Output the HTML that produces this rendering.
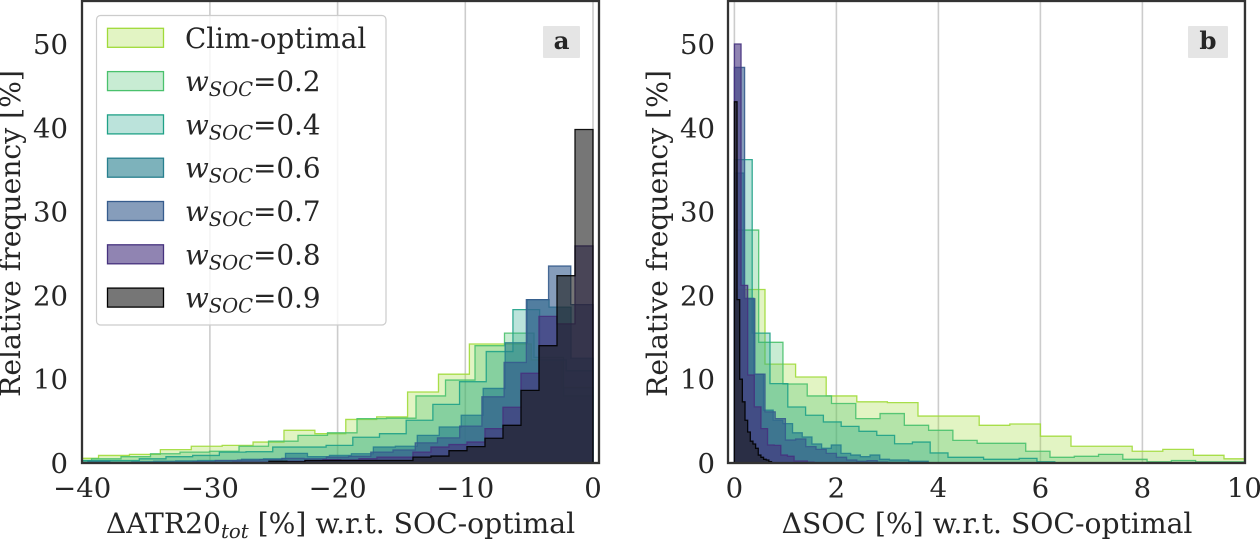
<!DOCTYPE html>
<html>
<head>
<meta charset="utf-8">
<title>Histograms of delta ATR20 and delta SOC</title>
<style>
html,body{margin:0;padding:0;background:#fff;width:1260px;height:539px;overflow:hidden}
svg{display:block}
text{font-family:"DejaVu Serif","Liberation Serif",serif;fill:#262626}
.tick{font-size:27.5px}
.axis{font-size:28.2px}
.leg{font-size:27.8px}
.it{font-style:italic}
.panel{font-size:24.5px;font-weight:bold;fill:#262626}
</style>
</head>
<body>
<svg id="chart" width="1260" height="539" viewBox="0 0 1260 539" xmlns="http://www.w3.org/2000/svg">
  <defs>
    <clipPath id="clipA"><rect x="82" y="1" width="517" height="462"/></clipPath>
    <clipPath id="clipB"><rect x="728" y="1" width="517" height="462"/></clipPath>
  </defs>
  <g id="gridA"></g>
  <g id="gridB"></g>
  <g id="marksA" clip-path="url(#clipA)"></g>
  <g id="marksB" clip-path="url(#clipB)"></g>
  <rect x="82" y="1" width="517" height="462" fill="none" stroke="#333" stroke-width="2.3"/>
  <rect x="728" y="1" width="517" height="462" fill="none" stroke="#333" stroke-width="2.3"/>
  <g id="ticksA"></g>
  <g id="ticksB"></g>

  <text class="axis" transform="translate(20,233.5) rotate(-90)" text-anchor="middle">Relative frequency [%]</text>
  <text class="axis" transform="translate(667,233.5) rotate(-90)" text-anchor="middle">Relative frequency [%]</text>
  <text class="axis" x="340.5" y="533" text-anchor="middle">ΔATR20<tspan class="it" font-size="19.7" dy="5">tot</tspan><tspan dy="-5"> [%] w.r.t. SOC-optimal</tspan></text>
  <text class="axis" x="987" y="533" text-anchor="middle">ΔSOC [%] w.r.t. SOC-optimal</text>

  <g>
    <rect x="543" y="26" width="37" height="32" rx="1" fill="#e5e5e5"/>
    <text class="panel" x="561.5" y="49" text-anchor="middle">a</text>
  </g>
  <g>
    <rect x="1188" y="26" width="40" height="32" rx="1" fill="#e5e5e5"/>
    <text class="panel" x="1208" y="49" text-anchor="middle">b</text>
  </g>

  <g id="legend">
    <rect x="96.5" y="15.5" width="289.5" height="309.5" rx="4" fill="#fff" fill-opacity="0.8" stroke="#ccc" stroke-width="1.2"/>
  </g>
</svg>
<script>
// Bin widths in axis units, and frequencies [%] listed from the zero end outward.
const seriesNames = ["Clim-optimal", "0.2", "0.4", "0.6", "0.7", "0.8", "0.9"];
const seriesColors = ["#a0da39", "#4ac16d", "#1fa187", "#277f8e", "#365c8d", "#46327e", "#000000"];
const seriesFills = ["#a0da39", "#4ac16d", "#1fa187", "#277f8e", "#365c8d", "#46327e", "#1a1a1a"];
const seriesAlpha = [0.3, 0.3, 0.3, 0.6, 0.6, 0.6, 0.6];

const atrBinWidths = [2.42, 2.31, 2.09, 1.72, 1.74, 1.41, 1.41];
const atrClim = [9, 12.3, 14.2, 14.2, 10.6, 8.47, 5.5, 5.2, 3.5, 3.9, 2.5, 2.1, 2.0, 1.6, 1.03, 0.9, 0.56];
const atrW02 = [8, 12.6, 15.5, 14, 9.9, 8, 5.35, 5.3, 3.6, 3.3, 2.6, 2, 1.4, 1.3, 1.1, 0.75, 0.5, 0.3];
const atrW04 = [11, 12.3, 18.3, 13.3, 9.7, 7, 5.1, 3.5, 3.07, 2.1, 1.9, 1.9, 1.35, 1.3, 0.9, 0.75, 0.5, 0.3, 0.3, 0.3];
const atrW06 = [12.5, 18.6, 19.5, 14.35, 8.9, 5.7, 4.3, 3.3, 2.0, 1.9, 1.1, 0.9, 0.75, 1.15, 0.5, 0.45, 0.3, 0.3, 0.25, 0.2, 0.15, 0.1, 0.2, 0.1];
const atrW07 = [18.9, 23.5, 19.5, 12, 7.9, 4.4, 3.0, 2.4, 1.55, 1.3, 0.8, 0.7, 0.5, 0.55, 0.4, 0.35, 0.3, 0.15, 0.1, 0.05];
const atrW08 = [25.9, 16.6, 17.5, 10.7, 6.65, 4.1, 2.5, 2.2, 1.9, 1.3, 0.7, 0.7, 0.5, 0.35, 0.4, 0.3, 0.2, 0.15, 0.1, 0.1, 0.05, 0.05];
const atrW09 = [39.8, 22.35, 14, 8.67, 4.5, 2.95, 1.95, 1.47, 0.83, 0.7, 0.3, 0.3, 0.3, 0.3, 0.3, 0.3, 0.15, 0.2];

const socBinWidths = [0.6, 0.476, 0.349, 0.19, 0.2, 0.13, 0.052];
const socClim = [20.7, 11.8, 10.26, 8, 7.3, 7.2, 5.6, 5.6, 4.5, 4.65, 3.2, 2, 2, 1.4, 1.63, 0.92, 0.5];
const socW02 = [27.8, 14.4, 9.43, 8, 7.1, 5.3, 5.9, 4.5, 3.9, 2.7, 2.35, 2.35, 1.4, 0.68, 0.8, 1.03, 0.44, 0.15, 0.3, 0.15, 0.15];
const socW04 = [36.2, 15.5, 9.47, 6.68, 5.7, 4.9, 4.37, 3.78, 3.3, 2.3, 2.5, 1.2, 0.68, 0.68, 0.44, 0.44, 0.55, 0.15];
const socW06 = [34.6, 19.65, 10.6, 6.3, 5.1, 4.7, 3.6, 3.1, 2.27, 1.75, 2.15, 1.15, 0.95, 0.75, 0.95, 0.44, 0.36, 0.36, 0.2, 0.2];
const socW07 = [47.2, 19.6, 10.6, 6.1, 5.3, 2.74, 2.86, 1.95, 1.63, 1.15, 0.68, 0.36, 0.2, 0.28, 0.1];
const socW08 = [50, 21.2, 10.5, 6.7, 4.1, 2.15, 2.1, 0.95, 0.8, 0.24, 0.24, 0.1];
const socW09 = [43.1, 19.5, 10, 7.3, 5.1, 3.7, 2.6, 2.27, 1.75, 0.95, 0.68, 0.44, 0.36, 0.16];

const atrTicks = [-40, -30, -20, -10, 0];
const atrTickLabels = ["−40", "−30", "−20", "−10", "0"];
const socTicks = [0, 2, 4, 6, 8, 10];
const socTickLabels = ["0", "2", "4", "6", "8", "10"];
const freqTicks = [0, 10, 20, 30, 40, 50];
const freqTickLabels = ["0", "10", "20", "30", "40", "50"];

const NS = "http://www.w3.org/2000/svg";
function yScale(v) { return 463 - v * 8.38; }
function xA(v) { return 593 + v * 12.77; }
function xB(v) { return 734.4 + v * 51; }

function make(tag, parent) {
  const el = document.createElementNS(NS, tag);
  parent.appendChild(el);
  return el;
}

function drawHist(parent, xFn, sign, width, freqs, idx, prefix) {
  let d = "M" + xFn(0).toFixed(2) + " " + yScale(0);
  freqs.forEach(function (f, i) {
    d += "L" + xFn(sign * i * width).toFixed(2) + " " + yScale(f).toFixed(2);
    d += "L" + xFn(sign * (i + 1) * width).toFixed(2) + " " + yScale(f).toFixed(2);
  });
  d += "L" + xFn(sign * freqs.length * width).toFixed(2) + " " + yScale(0) + "Z";
  const fill = make("path", parent);
  
  
  fill.setAttribute("d", d);
  fill.setAttribute("fill", seriesFills[idx]);
  fill.setAttribute("fill-opacity", seriesAlpha[idx]);
  const edge = make("path", parent);
  
  
  edge.setAttribute("d", d);
  edge.setAttribute("fill", "none");
  edge.setAttribute("stroke", seriesColors[idx]);
  edge.setAttribute("stroke-width", "1.3");
  edge.setAttribute("stroke-opacity", "0.9");
}

function drawAxes(gridId, tickId, xFn, ticks, labels, yLabelX, prefix) {
  const grid = document.getElementById(gridId);
  const tg = document.getElementById(tickId);
  ticks.forEach(function (t, i) {
    const ln = make("line", grid);
    
    
    ln.setAttribute("x1", xFn(t));
    ln.setAttribute("x2", xFn(t));
    ln.setAttribute("y1", 1);
    ln.setAttribute("y2", 463);
    ln.setAttribute("stroke", "#cccccc");
    ln.setAttribute("stroke-width", "1.6");
    const tx = make("text", tg);
    
    
    tx.setAttribute("class", "tick");
    tx.setAttribute("x", xFn(t));
    tx.setAttribute("y", 497.5);
    tx.setAttribute("text-anchor", "middle");
    tx.textContent = labels[i];
  });
  freqTicks.forEach(function (t, i) {
    const tx = make("text", tg);
    
    
    tx.setAttribute("class", "tick");
    tx.setAttribute("x", yLabelX);
    tx.setAttribute("y", yScale(t) + 10);
    tx.setAttribute("text-anchor", "end");
    tx.textContent = freqTickLabels[i];
  });
}

drawAxes("gridA", "ticksA", xA, atrTicks, atrTickLabels, 68, "panel-a");
drawAxes("gridB", "ticksB", xB, socTicks, socTickLabels, 715, "panel-b");

const atrAll = [atrClim, atrW02, atrW04, atrW06, atrW07, atrW08, atrW09];
const socAll = [socClim, socW02, socW04, socW06, socW07, socW08, socW09];
atrAll.forEach(function (f, i) {
  drawHist(document.getElementById("marksA"), xA, -1, atrBinWidths[i], f, i, "panel-a-series-" + i);
});
socAll.forEach(function (f, i) {
  drawHist(document.getElementById("marksB"), xB, 1, socBinWidths[i], f, i, "panel-b-series-" + i);
});

const legend = document.getElementById("legend");
seriesNames.forEach(function (name, i) {
  const top = 28.3 + i * 43.3;
  const sw = make("rect", legend);
  
  
  sw.setAttribute("x", 107.5);
  sw.setAttribute("y", top);
  sw.setAttribute("width", 56);
  sw.setAttribute("height", 19);
  sw.setAttribute("fill", seriesFills[i]);
  sw.setAttribute("fill-opacity", seriesAlpha[i]);
  sw.setAttribute("stroke", seriesColors[i]);
  sw.setAttribute("stroke-width", "1.3");
  const tx = make("text", legend);
  
  
  tx.setAttribute("class", "leg");
  tx.setAttribute("x", 185);
  tx.setAttribute("y", top + 19.5);
  if (i === 0) {
    tx.textContent = name;
  } else {
    const w = make("tspan", tx);
    w.setAttribute("class", "it");
    w.textContent = "w";
    const sub = make("tspan", tx);
    sub.setAttribute("class", "it");
    sub.setAttribute("font-size", "19.5");
    sub.setAttribute("dy", "5");
    sub.textContent = "SOC";
    const val = make("tspan", tx);
    val.setAttribute("dy", "-5");
    val.textContent = "=" + name;
  }
});
</script>
</body>
</html>
